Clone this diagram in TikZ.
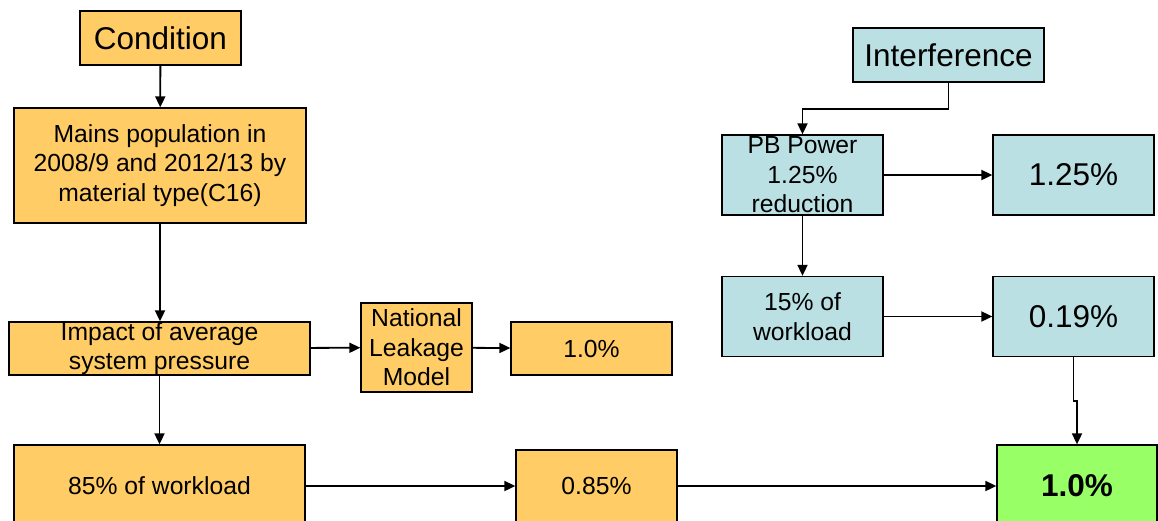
\documentclass[tikz,border=0pt]{standalone}
\usepackage{fontspec}
\setmainfont{Liberation Sans}
\usepackage{tikz}
\usetikzlibrary{arrows.meta}
\definecolor{condfill}{HTML}{FFCC66}
\definecolor{intfill}{HTML}{BBE0E3}
\definecolor{totalfill}{HTML}{99FF66}
\tikzset{
    box/.style={draw, line width=1.3pt, inner sep=0pt, align=center,
        font=\fontsize{24.7}{29.5}\selectfont},
    cbox/.style={box, fill=condfill},
    ibox/.style={box, fill=intfill},
    bigtext/.style={font=\fontsize{31.5}{36}\selectfont},
    arr/.style={line width=1.8pt, -{Triangle[length=11pt, width=10pt]}},
}
\begin{document}
\begin{tikzpicture}[x=1pt, y=-1pt]
    \useasboundingbox (0,0) rectangle (1158,520);
    \clip (0,0) rectangle (1158,520);

    % condition branch
    \node[cbox, bigtext, minimum width=161pt, minimum height=54pt] (cond) at (160.5,38) {Condition};
    \node[cbox, minimum width=292pt, minimum height=115pt] (mains) at (160,165.5)
        {Mains population in\\2008/9 and 2012/13 by\\material type(C16)};
    \node[cbox, minimum width=301pt, minimum height=53pt] (impact) at (159.5,348.5)
        {Impact of average\\system pressure};
    \node[cbox, minimum width=111pt, minimum height=89pt] (natl) at (416.5,347.5)
        {National\\Leakage\\Model};
    \node[cbox, minimum width=161pt, minimum height=53pt] (leak) at (591.5,348.5) {1.0\%};
    \node[cbox, minimum width=291pt, minimum height=82pt] (work85) at (159.5,486) {85\% of workload};
    \node[cbox, minimum width=161pt, minimum height=72pt] (r085) at (596.5,486) {0.85\%};

    % interference branch
    \node[ibox, bigtext, minimum width=191pt, minimum height=54pt] (interf) at (948.5,55) {Interference};
    \node[ibox, minimum width=161pt, minimum height=80pt] (pb) at (802.5,175)
        {PB Power\\1.25\%\\reduction};
    \node[ibox, bigtext, minimum width=161pt, minimum height=80pt] (r125) at (1073.5,175) {1.25\%};
    \node[ibox, minimum width=161pt, minimum height=80pt] (w15) at (802.5,316.5)
        {15\% of\\workload};
    \node[ibox, bigtext, minimum width=161pt, minimum height=80pt] (r019) at (1073.5,316.5) {0.19\%};

    % total
    \node[box, fill=totalfill, font=\fontsize{31.5}{36}\selectfont\bfseries,
        minimum width=160pt, minimum height=82pt] (total) at (1077,486) {1.0\%};

    \draw[arr] (cond) -- (mains);
    \draw[arr] (mains.south) -- (mains.south |- impact.north);
    \draw[arr] (impact) -- (natl);
    \draw[arr] (natl) -- (leak);
    \draw[arr] (impact.south) -- (impact.south |- work85.north);
    \draw[arr] (work85) -- (r085);
    \draw[arr] (r085) -- (total);

    \draw[arr] (interf.south) -- ++(0,26) -| (pb.north);
    \draw[arr] (pb) -- (r125);
    \draw[arr] (pb) -- (w15);
    \draw[arr] (w15) -- (r019);
    \draw[arr] (r019.south) -- ++(0,44) -| (total.north);
\end{tikzpicture}
\end{document}
